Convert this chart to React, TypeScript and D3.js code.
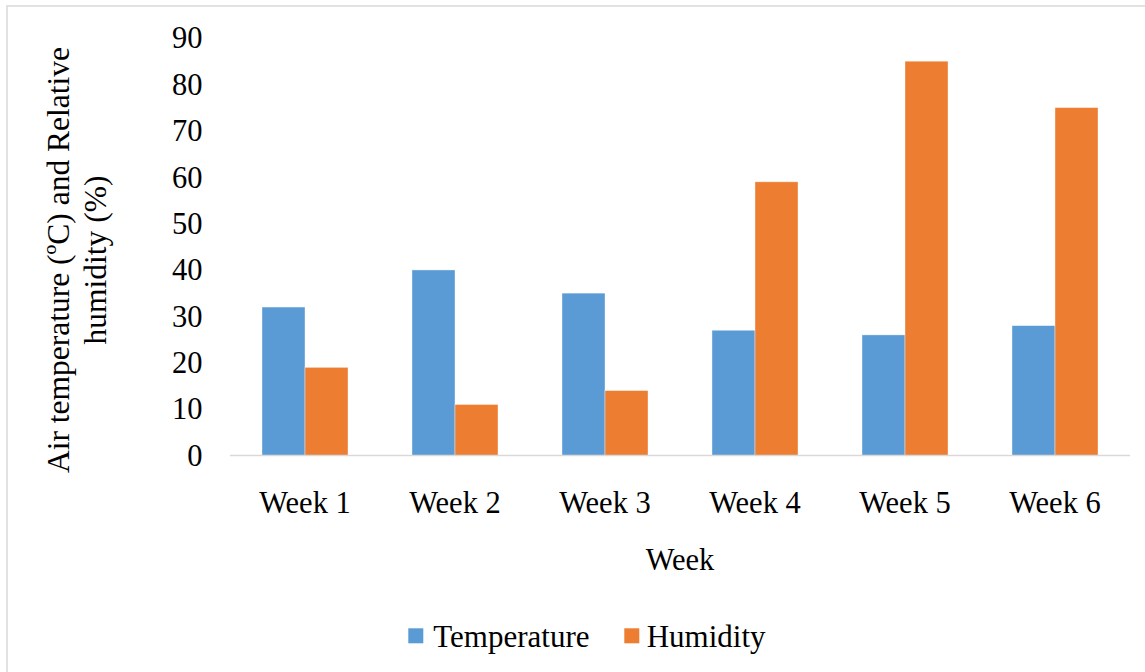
import React from "react";
import * as d3 from "d3";

const weeks = ["Week 1", "Week 2", "Week 3", "Week 4", "Week 5", "Week 6"];
const seriesNames = ["Temperature", "Humidity"];
const temperature = [32, 40, 35, 27, 26, 28];
const humidity = [19, 11, 14, 59, 85, 75];
const yTicks = [0, 10, 20, 30, 40, 50, 60, 70, 80, 90];
const colors = ["#5B9BD5", "#ED7D31"];

const W = 1145;
const H = 672;
const FONT = "'Liberation Serif', 'Times New Roman', Times, serif";

export default function App() {
  const x0 = d3
    .scaleBand<string>()
    .domain(weeks)
    .range([230, 1130])
    .paddingInner(0.4267)
    .paddingOuter(0.2133);
  const x1 = d3
    .scaleBand<string>()
    .domain(seriesNames)
    .range([0, x0.bandwidth()]);
  const y = d3.scaleLinear().domain([0, 90]).range([455.5, 38]);
  const values = [temperature, humidity];
  const ts: React.CSSProperties = { fontFamily: FONT };

  return (
    <svg
      width={W}
      height={H}
      style={{ position: "absolute", left: 0, top: 0, background: "#fff", fontFamily: FONT }}
    >
      <rect x={0} y={0} width={W} height={H} fill="#fff" />
      <rect
        x={7}
        y={6}
        width={W + 20}
        height={H + 20}
        fill="none"
        stroke="#D9D9D9"
        strokeWidth={1.5}
      />
      {weeks.map((w, i) => (
        <g key={w} transform={`translate(${x0(w)},0)`}>
          {seriesNames.map((s, j) => (
            <rect
              key={s}
              x={x1(s)}
              y={y(values[j][i])}
              width={x1.bandwidth()}
              height={y(0) - y(values[j][i])}
              fill={colors[j]}
              stroke="#fff"
              strokeOpacity={0.5}
              strokeWidth={0.75}
            />
          ))}
        </g>
      ))}
      <line
        x1={230}
        x2={1130}
        y1={y(0)}
        y2={y(0)}
        stroke="#D9D9D9"
        strokeWidth={1.7}
      />
      {yTicks.map((t) => (
        <text
          key={t}
          x={202.5}
          y={y(t)}
          dy="0.34em"
          textAnchor="end"
          fontSize={30.5}
          fill="#000"
          style={ts}
        >
          {t}
        </text>
      ))}
      {weeks.map((w) => (
        <text
          key={w}
          x={(x0(w) as number) + x0.bandwidth() / 2}
          y={513}
          textAnchor="middle"
          fontSize={30.5}
          fill="#000"
          style={ts}
        >
          {w}
        </text>
      ))}
      <text x={680} y={569.5} textAnchor="middle" fontSize={30.5} fill="#000" style={ts}>
        Week
      </text>
      <g transform="translate(68.5,260) rotate(-90)">
        <text x={0} y={0} textAnchor="middle" fontSize={31.5} fill="#000" style={ts}>
          Air temperature (ºC) and Relative
        </text>
        <text x={0} y={37.5} textAnchor="middle" fontSize={31.5} fill="#000" style={ts}>
          humidity (%)
        </text>
      </g>
      <rect x={408.3} y={628.3} width={15} height={15} fill={colors[0]} />
      <text x={433.3} y={646.7} fontSize={31} fill="#000" style={ts}>
        {seriesNames[0]}
      </text>
      <rect x={624.3} y={628.3} width={15} height={15} fill={colors[1]} />
      <text x={646.7} y={646.7} fontSize={31} fill="#000" style={ts}>
        {seriesNames[1]}
      </text>
    </svg>
  );
}
